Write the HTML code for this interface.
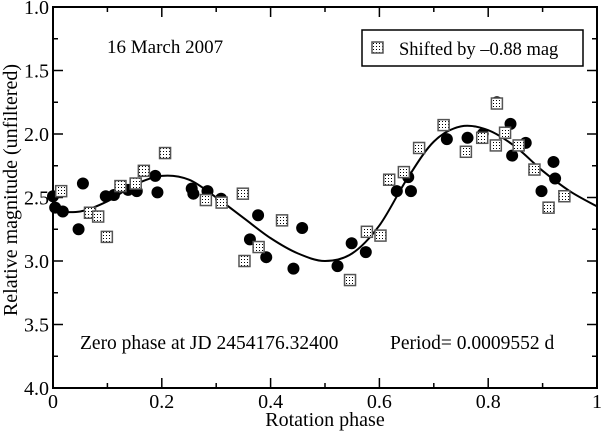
<!DOCTYPE html>
<html><head><meta charset="utf-8"><style>
body{margin:0;background:#fff}
svg{display:block;font-family:"Liberation Serif",serif}
</style></head><body>
<svg id="chart" width="601" height="432" viewBox="0 0 601 432">
<defs>
<pattern id="dots" width="3" height="3" patternUnits="userSpaceOnUse">
<rect width="3" height="3" fill="#fff"/><rect x="1" y="1" width="1" height="1" fill="#000"/>
</pattern>
</defs>
<g id="axes"></g>
<path id="curve" fill="none" stroke="#000" stroke-width="2"/>
<g id="marks"></g>
<text x="107" y="53" font-size="19">16 March 2007</text>
<text x="80" y="349" font-size="19.5">Zero phase at JD 2454176.32400</text>
<text x="390" y="349" font-size="19.5">Period= 0.0009552 d</text>
<g>
<rect x="362" y="30" width="221" height="36" fill="#fff" stroke="#000" stroke-width="1.5"/>
<rect x="372" y="42" width="11" height="11" fill="url(#dots)" stroke="#555" stroke-width="1.5"/>
<text x="399" y="55" font-size="18.5">Shifted by –0.88 mag</text>
</g>
<text x="325" y="426" font-size="20" text-anchor="middle">Rotation phase</text>
<text transform="translate(17,190) rotate(-90)" font-size="20" text-anchor="middle">Relative magnitude (unfiltered)</text>
</svg>
<script>
const circlePhase=[0.0,0.004,0.018,0.047,0.055,0.097,0.112,0.138,0.154,0.188,0.192,0.255,0.258,0.284,0.309,0.362,0.377,0.392,0.442,0.458,0.523,0.549,0.575,0.632,0.653,0.658,0.724,0.762,0.790,0.816,0.841,0.844,0.869,0.898,0.920,0.923];
const circleMag=[2.49,2.58,2.61,2.75,2.39,2.49,2.48,2.44,2.45,2.33,2.46,2.43,2.47,2.45,2.51,2.83,2.64,2.97,3.06,2.74,3.04,2.86,2.93,2.45,2.34,2.45,2.04,2.03,2.00,1.75,1.92,2.17,2.07,2.45,2.22,2.35];
const squarePhase=[0.015,0.068,0.083,0.099,0.124,0.152,0.167,0.206,0.281,0.310,0.349,0.352,0.378,0.421,0.546,0.577,0.602,0.618,0.645,0.673,0.718,0.759,0.789,0.814,0.816,0.831,0.856,0.885,0.911,0.940];
const squareMag=[2.45,2.62,2.65,2.81,2.41,2.39,2.29,2.15,2.52,2.54,2.47,3.00,2.89,2.68,3.15,2.77,2.80,2.36,2.30,2.11,1.93,2.14,2.03,2.09,1.76,1.99,2.09,2.28,2.58,2.49];
const curvePhase=[0,0.05,0.1,0.15,0.2,0.25,0.3,0.35,0.4,0.45,0.5,0.55,0.6,0.65,0.7,0.75,0.8,0.85,0.9,0.95,1.0];
const curveMag=[2.61,2.61,2.53,2.40,2.33,2.36,2.50,2.66,2.82,2.94,3.00,2.94,2.72,2.36,2.06,1.94,1.97,2.10,2.29,2.45,2.57];
const xTicks=[0,0.2,0.4,0.6,0.8,1];
const xTickLabels=["0","0.2","0.4","0.6","0.8","1"];
const yTicks=[1.0,1.5,2.0,2.5,3.0,3.5,4.0];
const yTickLabels=["1.0","1.5","2.0","2.5","3.0","3.5","4.0"];
const X0=53,X1=597,Y0=7,Y1=388;
const sx=p=>X0+p*(X1-X0);
const sy=m=>Y0+(m-1)/3*(Y1-Y0);
const NS="http://www.w3.org/2000/svg";
function mk(t,a,parent){const e=document.createElementNS(NS,t);for(const k in a)e.setAttribute(k,a[k]);parent.appendChild(e);return e;}
const ax=document.getElementById('axes');
const frame=mk('rect',{x:X0,y:Y0,width:X1-X0,height:Y1-Y0,fill:'none',stroke:'#000','stroke-width':2},ax);


for(let i=0;i<=10;i++){const p=i/10,x=sx(p),L=i%2?5:10;
 mk('line',{x1:x,x2:x,y1:Y1,y2:Y1-L,stroke:'#000','stroke-width':1.5},ax);
 mk('line',{x1:x,x2:x,y1:Y0,y2:Y0+L,stroke:'#000','stroke-width':1.5},ax);}
for(let i=0;i<=12;i++){const m=1+i*0.25,y=sy(m),L=i%2?5:10;
 mk('line',{x1:X0,x2:X0+L,y1:y,y2:y,stroke:'#000','stroke-width':1.5},ax);
 mk('line',{x1:X1,x2:X1-L,y1:y,y2:y,stroke:'#000','stroke-width':1.5},ax);}
xTicks.forEach((p,i)=>{const t=mk('text',{x:sx(p),y:Y1+20,'font-size':20,'text-anchor':'middle'},ax);t.textContent=xTickLabels[i];
 
 });
yTicks.forEach((m,i)=>{const t=mk('text',{x:X0-4,y:sy(m)+7,'font-size':20,'text-anchor':'end'},ax);t.textContent=yTickLabels[i];
 
 });
const pts=curvePhase.map((p,i)=>[sx(p),sy(curveMag[i])]);
let d='M'+pts[0][0]+','+pts[0][1];
for(let i=0;i<pts.length-1;i++){const p0=pts[Math.max(0,i-1)],p1=pts[i],p2=pts[i+1],p3=pts[Math.min(pts.length-1,i+2)];
 d+=' C'+(p1[0]+(p2[0]-p0[0])/6)+','+(p1[1]+(p2[1]-p0[1])/6)+' '+(p2[0]-(p3[0]-p1[0])/6)+','+(p2[1]-(p3[1]-p1[1])/6)+' '+p2[0]+','+p2[1];}
document.getElementById('curve').setAttribute('d',d);
const g=document.getElementById('marks');
circlePhase.forEach((p,i)=>{const c=mk('circle',{cx:sx(p),cy:sy(circleMag[i]),r:6,fill:'#000'},g);
 
 });
squarePhase.forEach((p,i)=>{const r=mk('rect',{x:sx(p)-5.5,y:sy(squareMag[i])-5.5,width:11,height:11,fill:'url(#dots)',stroke:'#555','stroke-width':1.5},g);
 
 });
</script>
</body></html>
